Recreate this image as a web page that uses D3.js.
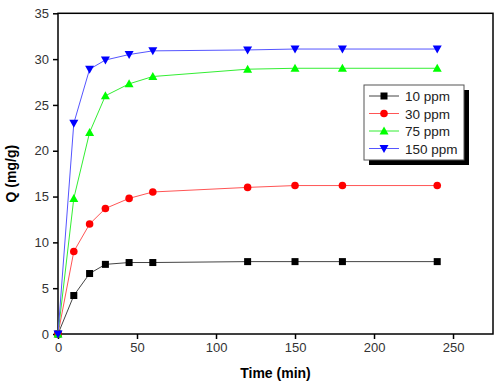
<!DOCTYPE html>
<html>
<head>
<meta charset="utf-8">
<style>
    body { margin: 0; background: #fff; }
    svg { font-family: 'Liberation Sans', Arial, sans-serif; }
    .axis text { font-size: 13px; fill: #333; }
    .axis .domain { display: none; }
    .axis .tick line { stroke: #000; stroke-width: 1.5; }
    .title { font-size: 14px; font-weight: bold; fill: #000; }
    .legend text { font-size: 13.5px; fill: #222; }
</style>
</head>
<body>
<svg width="500" height="388"></svg>
<script src="https://d3js.org/d3.v7.min.js"></script>
<script>
    let times = [0, 10, 20, 30, 45, 60, 120, 150, 180, 240];
    let ppm10 = [0, 4.2, 6.6, 7.6, 7.8, 7.8, 7.9, 7.9, 7.9, 7.9];
    let ppm30 = [0, 9, 12, 13.7, 14.8, 15.5, 16, 16.2, 16.2, 16.2];
    let ppm75 = [0, 14.8, 22, 26, 27.3, 28.1, 28.9, 29, 29, 29];
    let ppm150 = [0, 23, 28.9, 29.9, 30.5, 30.9, 31, 31.1, 31.1, 31.1];
    let seriesNames = ["10 ppm", "30 ppm", "75 ppm", "150 ppm"];
    let xTicks = [0, 50, 100, 150, 200, 250];
    let yTicks = [0, 5, 10, 15, 20, 25, 30, 35];

    let series = [
        { name: seriesNames[0], values: ppm10, color: "#000", line: "#444", symbol: "square" },
        { name: seriesNames[1], values: ppm30, color: "#ff0000", line: "#ff5555", symbol: "circle" },
        { name: seriesNames[2], values: ppm75, color: "#00ff00", line: "#33ee33", symbol: "up" },
        { name: seriesNames[3], values: ppm150, color: "#0000ff", line: "#5555ff", symbol: "down" }
    ];

    let svg = d3.select("svg");
    let plotL = 58, plotR = 493, plotT = 13.3, plotB = 334;

    let x = d3.scaleLinear().domain([0, 275.3]).range([plotL, plotR]);
    let y = d3.scaleLinear().domain([0, 35]).range([plotB, plotT]);

    // axes
    svg.append("g").attr("class", "axis")
        .attr("transform", `translate(0,${plotB})`)
        .call(d3.axisBottom(x).tickValues(xTicks).tickSize(5).tickPadding(4));
    svg.append("g").attr("class", "axis")
        .attr("transform", `translate(${plotL},0)`)
        .call(d3.axisLeft(y).tickValues(yTicks).tickSize(5).tickPadding(4));

    // frame
    svg.append("rect")
        .attr("x", plotL).attr("y", plotT)
        .attr("width", plotR - plotL).attr("height", plotB - plotT)
        .attr("fill", "none").attr("stroke", "#000").attr("stroke-width", 1.5);

    function marker(sel, type, size) {
        let h = size / 2;
        if (type === "square") {
            sel.append("rect").attr("x", -h).attr("y", -h).attr("width", size).attr("height", size);
        } else if (type === "circle") {
            sel.append("circle").attr("r", h + 0.3);
        } else if (type === "up") {
            sel.append("path").attr("d", `M0,${-h - 1}L${h + 1},${h}L${-h - 1},${h}Z`);
        } else {
            sel.append("path").attr("d", `M0,${h + 1}L${h + 1},${-h}L${-h - 1},${-h}Z`);
        }
    }

    let line = d3.line()
        .x(function (d, i) { return x(times[i]); })
        .y(function (d) { return y(d); });

    series.forEach(function (s) {
        svg.append("path")
            .attr("d", line(s.values))
            .attr("fill", "none")
            .attr("stroke", s.line)
            .attr("stroke-width", 1);
    });

    series.forEach(function (s) {
        s.values.forEach(function (v, i) {
            let g = svg.append("g")
                .attr("transform", `translate(${x(times[i])},${y(v)})`)
                .attr("fill", s.color);
            marker(g, s.symbol, 7);
        });
    });

    // legend
    let legend = svg.append("g").attr("class", "legend");
    legend.append("rect")
        .attr("x", 369).attr("y", 90).attr("width", 100).attr("height", 75)
        .attr("fill", "#000");
    legend.append("rect")
        .attr("x", 364).attr("y", 85).attr("width", 100).attr("height", 75)
        .attr("fill", "#fff").attr("stroke", "#555").attr("stroke-width", 1);

    series.forEach(function (s, i) {
        let ly = 96 + i * 17.5;
        legend.append("line")
            .attr("x1", 369).attr("x2", 399).attr("y1", ly).attr("y2", ly)
            .attr("stroke", s.line).attr("stroke-width", 1);
        let g = legend.append("g")
            .attr("transform", `translate(384,${ly})`)
            .attr("fill", s.color);
        marker(g, s.symbol, 7);
        legend.append("text")
            .attr("x", 405).attr("y", ly + 5)
            .text(s.name);
    });

    // titles
    svg.append("text").attr("class", "title")
        .attr("text-anchor", "middle")
        .attr("x", (plotL + plotR) / 2).attr("y", 378)
        .text("Time (min)");
    svg.append("text").attr("class", "title")
        .attr("text-anchor", "middle")
        .attr("transform", `translate(16,${(plotT + plotB) / 2}) rotate(-90)`)
        .text("Q (mg/g)");
</script>
</body>
</html>
